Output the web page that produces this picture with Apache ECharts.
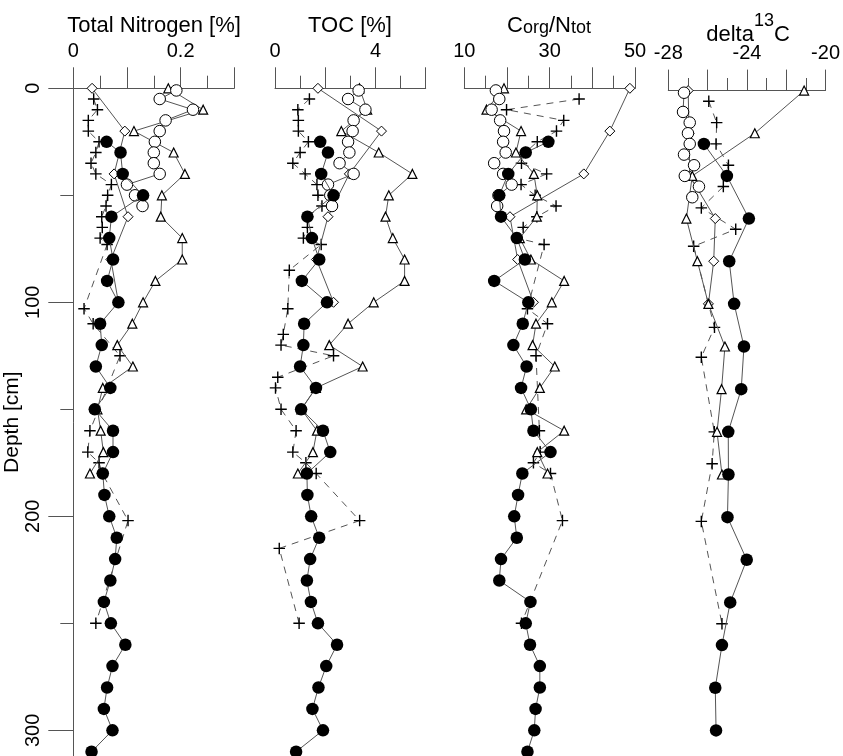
<!DOCTYPE html>
<html>
<head>
<meta charset="utf-8">
<script src="https://cdn.jsdelivr.net/npm/echarts@6/dist/echarts.min.js"></script>
<style>
  html, body { margin: 0; padding: 0; background: #fff; }
  #chart { width: 843px; height: 756px; }
</style>
</head>
<body>
<div id="chart"></div>
<script>
// ---------------- DATA ----------------
// Filled circles (long core)
const depthFilled = [25,30,40,50,60,70,80,90,100,110,120,130,140,150,160,170,180,190,200,210,220,230,240,250,260,270,280,290,300,310];
const nFilled   = [0.062,0.088,0.092,0.130,0.071,0.067,0.074,0.063,0.084,0.050,0.053,0.042,0.069,0.040,0.074,0.074,0.055,0.058,0.067,0.081,0.078,0.069,0.057,0.070,0.097,0.073,0.063,0.057,0.073,0.034];
const tocFilled = [1.80,2.11,1.84,2.33,1.29,1.47,1.76,1.07,2.07,1.16,1.13,1.00,1.63,1.04,1.91,2.20,1.27,1.29,1.44,1.76,1.40,1.27,1.43,1.71,2.47,2.04,1.73,1.49,1.91,0.84];
const cnFilled  = [29.7,24.4,20.3,18.2,18.6,22.3,24.2,17.0,25.0,23.7,21.5,24.6,23.3,25.6,26.2,30.2,23.6,22.6,21.7,22.3,18.6,18.2,25.5,24.4,25.4,27.7,27.7,26.7,26.4,24.8];
const depthFilledD13 = [25,40,60,80,100,120,140,160,180,200,220,240,260,280,300];
const d13Filled = [-26.19,-25.02,-23.90,-24.90,-24.65,-24.15,-24.29,-24.95,-24.94,-24.99,-24.01,-24.85,-25.27,-25.61,-25.57];

// Open circles
const depthOpen = [1,5,10,15,20,25,30,35,40,45,50,55];
const nOpen   = [0.192,0.161,0.223,0.172,0.161,0.152,0.150,0.150,0.161,0.100,0.115,0.129];
const tocOpen = [3.33,2.91,3.60,3.13,3.09,2.91,2.96,2.57,3.13,2.11,2.20,2.27];
const cnOpen  = [17.4,18.2,16.4,18.4,19.3,19.1,19.7,17.0,19.1,21.1,18.0,17.7];
const depthOpenD13 = [1,10,15,20,25,30,35,40,45,50];
const d13Open = [-27.20,-27.25,-26.91,-27.00,-26.91,-27.20,-26.69,-27.16,-26.44,-26.78];

// Triangles
const depthTri = [0,10,20,30,40,50,60,70,80,90,100,110,120,130,140,150,160,170,180];
const nTri   = [0.177,0.242,0.113,0.187,0.208,0.165,0.163,0.203,0.203,0.153,0.130,0.110,0.082,0.111,0.055,0.045,0.051,0.056,0.031];
const tocTri = [3.36,3.67,2.64,4.13,5.47,4.53,4.40,4.69,5.16,5.16,3.93,2.91,2.16,3.49,1.63,1.05,1.67,1.51,0.91];
const cnTri  = [19.3,15.2,23.3,22.1,26.3,27.1,27.0,23.0,25.6,33.4,30.5,26.8,26.0,31.2,27.7,24.5,33.4,27.1,29.5];
const depthTriD13 = [0,20,40,60,80,100,120,140,160,180];
const d13Tri = [-21.09,-23.60,-26.78,-27.08,-26.52,-25.96,-25.12,-25.29,-25.52,-25.27];

// Diamonds
const depthDia = [0,20,40,60,80,100];
const nDia   = [0.035,0.096,0.076,0.102,0.070,0.084];
const tocDia = [1.71,4.24,2.96,2.11,1.65,2.33];
const cnDia  = [48.8,44.1,38.0,20.7,22.5,26.2];
const d13Dia = [-26.99,-26.94,-26.91,-25.61,-25.69,-25.96];

// Crosses (dashed)
const depthCrossN = [5,10,15,20,25,30,35,40,45,50,55,60,65,70,73,103,110,125,160,170,175,180,202,250];
const nCross = [0.038,0.045,0.028,0.028,0.048,0.042,0.033,0.042,0.071,0.064,0.061,0.053,0.054,0.050,0.063,0.020,0.037,0.087,0.031,0.027,0.048,0.054,0.102,0.042];
const depthCrossTOC = [5,10,15,20,25,30,35,40,45,50,55,60,65,70,73,85,103,115,120,125,135,140,150,160,170,175,180,202,215,250];
const tocCross = [1.37,0.91,0.93,0.93,1.33,1.00,0.71,1.20,1.67,1.71,1.87,1.30,1.29,1.13,1.84,0.57,0.51,0.33,0.24,2.33,0.11,0.02,0.24,0.84,0.71,1.23,1.64,3.37,0.17,0.96];
const depthCrossCN = [5,10,15,20,25,30,35,40,45,50,55,60,65,70,73,103,110,125,160,170,175,180,202,250];
const cnCross = [36.9,19.9,33.3,31.6,27.1,24.3,23.4,29.3,23.3,26.6,31.5,27.0,23.8,22.4,28.7,24.8,29.5,26.8,27.6,27.8,26.2,30.2,33.0,23.4];
const depthCrossD13 = [5,15,25,35,45,55,65,73,111,125,160,175,202,250];
const d13Cross = [-25.94,-25.54,-25.57,-24.94,-25.20,-26.32,-24.57,-26.71,-25.65,-26.32,-25.66,-25.77,-26.32,-25.27];

// Axis tick labels
const labelsN = [0, 0.2];
const labelsTOC = [0, 4];
const labelsCN = [10, 30, 50];
const labelsD13 = [-28, -24, -20];
const depthLabels = [0, 100, 200, 300];
const depthMinor = [50, 150, 250];

// ---------------- CHART ----------------
const FONT = '"Liberation Sans", Arial, Helvetica, sans-serif';
const AX = '#555';
const chart = echarts.init(document.getElementById('chart'), null, { renderer: 'canvas' });

const DEPTH_MAX = 312;
const GTOP = 88.3, GH = 667.7;
const grids = [
  { left: 73.3, top: GTOP, width: 161, height: GH },
  { left: 275, top: GTOP, width: 150.7, height: GH },
  { left: 464.3, top: GTOP, width: 170.7, height: GH },
  { left: 668.3, top: GTOP + 2.3, width: 159, height: GH }
];

function xAxisDef(gi, min, max, interval, labels, fmt) {
  return {
    gridIndex: gi, type: 'value', position: 'top', min: min, max: max, interval: interval,
    axisLine: { show: true, onZero: false, lineStyle: { color: AX, width: 1 } },
    axisTick: { show: true, length: 21, lineStyle: { color: AX, width: 1 } },
    minorTick: { show: true, splitNumber: 2, length: 12.6, lineStyle: { color: AX, width: 1 } },
    splitLine: { show: false }, minorSplitLine: { show: false },
    axisLabel: {
      show: true, customValues: labels, fontSize: 20, fontFamily: FONT, color: '#000', margin: 27,
      formatter: fmt
    }
  };
}

const xAxes = [
  xAxisDef(0, 0, 0.3, 0.1, labelsN, v => (Math.abs(v) < 1e-9 ? '0' : String(Math.round(v * 100) / 100))),
  xAxisDef(1, 0, 6, 2, labelsTOC, v => String(v)),
  xAxisDef(2, 10, 50, 10, labelsCN, v => String(v)),
  xAxisDef(3, -28, -20, 2, labelsD13, v => String(v))
];

const yAxes = [
  {
    gridIndex: 0, type: 'value', inverse: true, min: 0, max: DEPTH_MAX, position: 'left',
    axisLine: { show: true, onZero: false, lineStyle: { color: AX, width: 1 } },
    axisTick: { show: true, length: 25, customValues: depthLabels, lineStyle: { color: AX, width: 1 } },
    splitLine: { show: false },
    axisLabel: { show: true, customValues: depthLabels, rotate: 90, fontSize: 20, fontFamily: FONT, color: '#000', margin: 30 },
    name: 'Depth [cm]', nameLocation: 'middle', nameRotate: 90, nameGap: 40,
    nameTextStyle: { fontSize: 21, fontFamily: FONT, color: '#000' }
  },
  {
    gridIndex: 0, type: 'value', inverse: true, min: 0, max: DEPTH_MAX, position: 'left', offset: 0,
    axisLine: { show: false, onZero: false },
    axisTick: { show: true, length: 13, customValues: depthMinor, lineStyle: { color: AX, width: 1 } },
    splitLine: { show: false },
    axisLabel: { show: false }
  },
  { gridIndex: 1, type: 'value', inverse: true, min: 0, max: DEPTH_MAX, show: false },
  { gridIndex: 2, type: 'value', inverse: true, min: 0, max: DEPTH_MAX, show: false },
  { gridIndex: 3, type: 'value', inverse: true, min: 0, max: DEPTH_MAX, show: false }
];
const yIdx = [0, 2, 3, 4];

const STY = {
  filled: { symbol: 'circle', symbolSize: 12.5, itemStyle: { color: '#000', borderWidth: 0 }, lineStyle: { color: '#555', width: 1 } },
  open:   { symbol: 'circle', symbolSize: 11.5, itemStyle: { color: '#fff', borderColor: '#000', borderWidth: 1 }, lineStyle: { color: '#555', width: 1 } },
  tri:    { symbol: 'triangle', symbolSize: 9, itemStyle: { color: '#fff', borderColor: '#000', borderWidth: 1.2 }, lineStyle: { color: '#555', width: 1 } },
  dia:    { symbol: 'diamond', symbolSize: 10, itemStyle: { color: '#fff', borderColor: '#000', borderWidth: 1 }, lineStyle: { color: '#555', width: 1 } },
  cross:  { symbol: 'path://M0,5L10,5M5,0L5,10', symbolSize: 11.5, itemStyle: { color: 'none', borderColor: '#000', borderWidth: 1.4 }, lineStyle: { color: '#555', width: 1, type: [7, 6] } }
};

function mk(gi, depths, vals, kind, z) {
  const s = STY[kind];
  return {
    type: 'line', xAxisIndex: gi, yAxisIndex: yIdx[gi],
    data: depths.map((d, i) => [vals[i], d]),
    symbol: s.symbol, symbolSize: s.symbolSize, symbolKeepAspect: true,
    showSymbol: true, showAllSymbol: true,
    itemStyle: s.itemStyle, lineStyle: s.lineStyle,
    clip: false, silent: true, animation: false, z: z,
    emphasis: { disabled: true }
  };
}

const series = [
  mk(0, depthCrossN, nCross, 'cross', 2), mk(1, depthCrossTOC, tocCross, 'cross', 2),
  mk(2, depthCrossCN, cnCross, 'cross', 2), mk(3, depthCrossD13, d13Cross, 'cross', 2),
  mk(0, depthDia, nDia, 'dia', 3), mk(1, depthDia, tocDia, 'dia', 3),
  mk(2, depthDia, cnDia, 'dia', 3), mk(3, depthDia, d13Dia, 'dia', 3),
  mk(0, depthTri, nTri, 'tri', 4), mk(1, depthTri, tocTri, 'tri', 4),
  mk(2, depthTri, cnTri, 'tri', 4), mk(3, depthTriD13, d13Tri, 'tri', 4),
  mk(0, depthOpen, nOpen, 'open', 5), mk(1, depthOpen, tocOpen, 'open', 5),
  mk(2, depthOpen, cnOpen, 'open', 5), mk(3, depthOpenD13, d13Open, 'open', 5),
  mk(0, depthFilled, nFilled, 'filled', 6), mk(1, depthFilled, tocFilled, 'filled', 6),
  mk(2, depthFilled, cnFilled, 'filled', 6), mk(3, depthFilledD13, d13Filled, 'filled', 6)
];

const titleRich = {
  b: { fontSize: 22, fontFamily: FONT, color: '#000', lineHeight: 26, verticalAlign: 'bottom' },
  s: { fontSize: 18, fontFamily: FONT, color: '#000', lineHeight: 18, verticalAlign: 'bottom' },
  p: { fontSize: 18, fontFamily: FONT, color: '#000', lineHeight: 18, padding: [0, 0, 16, 0], verticalAlign: 'bottom' }
};

const graphic = [
  { type: 'text', x: 154, y: 25.5, style: { text: 'Total Nitrogen [%]', font: '22px ' + FONT, fill: '#000', align: 'center', verticalAlign: 'middle' } },
  { type: 'text', x: 350, y: 25.5, style: { text: 'TOC [%]', font: '22px ' + FONT, fill: '#000', align: 'center', verticalAlign: 'middle' } },
  { type: 'text', x: 549, y: 24.4, style: { text: '{b|C}{s|org}{b|/N}{s|tot}', rich: titleRich, align: 'center', verticalAlign: 'middle' } },
  { type: 'text', x: 748, y: 33.4, style: { text: '{b|delta}{p|13}{b|C}', rich: titleRich, align: 'center', verticalAlign: 'middle' } }
];

chart.setOption({
  animation: false,
  backgroundColor: '#fff',
  grid: grids,
  xAxis: xAxes,
  yAxis: yAxes,
  series: series,
  graphic: graphic
});
</script>
</body>
</html>
